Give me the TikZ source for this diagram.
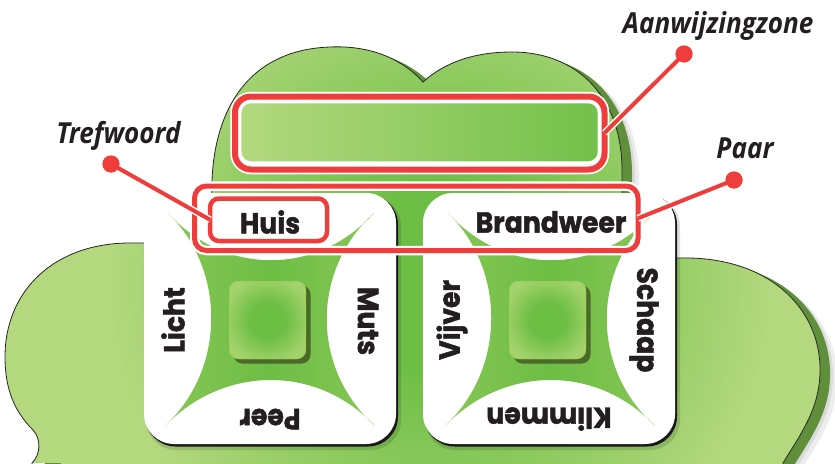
\documentclass[tikz,border=0pt]{standalone}
\usepackage{fontspec}
\newfontfamily\labelfont{Open Sans}[FakeStretch=0.9]
\newfontfamily\tilefont{Poppins}[FakeStretch=0.92, BoldFeatures={FakeBold=1.6}]
\definecolor{gLight}{HTML}{B3D87E}
\definecolor{gDark}{HTML}{6DBE45}
\definecolor{gShadow}{HTML}{5F8F3B}
\definecolor{gStar}{HTML}{86C654}
\definecolor{gSq}{HTML}{A4D36C}
\definecolor{gSqB}{HTML}{9CCF62}
\definecolor{sqShadow}{HTML}{4B6A27}
\definecolor{cRed}{HTML}{EE3D3A}
\definecolor{ink}{HTML}{231F20}
\pgfdeclareradialshading{blobshade}{\pgfpoint{0bp}{0bp}}{color(0bp)=(gDark); color(90bp)=(gDark); color(330bp)=(gLight); color(420bp)=(gLight)}
\pgfdeclareradialshading{squareshade}{\pgfpoint{0bp}{0bp}}{color(0bp)=(gDark); color(18bp)=(gDark); color(44bp)=(gSq); color(60bp)=(gSq)}
\newcommand\blobpath{(212,205) .. controls (208,115) and (245,50) .. (330,47) .. controls (375,45) and (405,62) .. (423,82) .. controls (445,62) and (475,52) .. (512,52) .. controls (580,52) and (622,100) .. (622,170) -- (622,205) -- (660,230) -- (660,258) -- (680,258) .. controls (770,256) and (822,310) .. (820,373) .. controls (819,410) and (800,435) .. (783,463) -- (783,480) -- (30,480) -- (32,463) .. controls (40,455) and (42,440) .. (33,430) .. controls (15,412) and (5,390) .. (5,357) .. controls (5,290) and (55,243) .. (130,243) -- (175,243) -- (175,205) -- cycle}
\newcommand\starpath{(168,213) .. controls (225,276) and (317,276) .. (374,213) .. controls (311,270) and (311,368) .. (374,425) .. controls (317,365) and (225,365) .. (166,425) .. controls (226,368) and (226,270) .. (168,213) -- cycle}
\tikzset{
  tilesoft/.style={fill=black, opacity=.13, rounded corners=30pt},
  tileedge/.style={fill=black!90, rounded corners=30pt},
  tileface/.style={fill=white, rounded corners=30pt},
  starshape/.style={left color=gStar, right color=gStar, middle color=gDark},
  sqshadow/.style={fill=sqShadow, rounded corners=9pt},
  sqborder/.style={draw=gSqB, line width=1pt, rounded corners=9pt},
  tileword/.style={font=\tilefont\bfseries\fontsize{29}{29}\selectfont, text=ink, inner sep=0pt},
  calloutlabel/.style={font=\labelfont\bfseries\itshape\fontsize{29}{29}\selectfont, text=ink, inner sep=0pt},
  redframe/.style={draw=cRed, line width=5pt, preaction={draw=white, line width=9.5pt}, inner sep=0pt, outer sep=0pt},
  panelbox/.style={draw=white, line width=3.5pt, rounded corners=11pt, left color=gLight, right color=gDark!92!gLight, inner sep=0pt},
  reddot/.style={circle, fill=cRed, minimum size=17pt, inner sep=0pt},
  connector/.style={draw=cRed, line width=4pt, preaction={draw=white, line width=7pt}},
}
\newcommand\drawtile[2]{%
  \begin{scope}[shift={(#1,0)}]
    \fill[tilesoft] (146,196) rectangle (401,450);
    \fill[tileedge] (145.5,194.5) rectangle (398,446.5);
    \fill[tileface] (144,193) rectangle (396,444);
  \end{scope}
  \begin{scope}[shift={(#2,0)}]
    \shade[starshape] \starpath;
    \fill[sqshadow] (233.5,285.5) rectangle (310.5,363.5);
    \begin{scope}
      \clip[rounded corners=9pt] (229,281) rectangle (306,359);
      \path (267.5,320) node[inner sep=0pt] {\pgfuseshading{squareshade}};
    \end{scope}
    \draw[sqborder] (229.5,281.5) rectangle (305.5,358.5);
  \end{scope}}
\begin{document}
\begin{tikzpicture}[x=1pt,y=-1pt]
\useasboundingbox (0,0) rectangle (835,463);
% blob with shadows
\fill[black, opacity=.07, shift={(17,9)}] \blobpath;
\fill[black, opacity=.08, shift={(13,6)}] \blobpath;
\fill[gShadow, shift={(10,4)}] \blobpath;
\begin{scope}
  \clip \blobpath;
  \fill[gLight] (0,0) rectangle (835,463);
  \path (440,280) node[inner sep=0pt] {\pgfuseshading{blobshade}};
\end{scope}
\draw[black!85, line width=0.8pt] \blobpath;
% top panel
\node[panelbox, minimum width=359.75pt, minimum height=61.5pt] (panel) at (419.6,132.3) {};
% tiles
\drawtile{0}{0}
\drawtile{279}{280}
% tile words
\node[tileword] (huis) at (270,222) {Huis};
\node[tileword, rotate=90] (licht) at (173,320) {Licht};
\node[tileword, rotate=-90] (muts) at (368,321) {Muts};
\node[tileword, rotate=180] (peer) at (270,419) {Peer};
\node[tileword] (brandweer) at (551,222) {Brandweer};
\node[tileword, rotate=90] (vijver) at (452,320) {Vijver};
\node[tileword, rotate=-90] (schaap) at (644,320) {Schaap};
\node[tileword, rotate=180] (klimmen) at (549,419) {Klimmen};
% red frames
\node[redframe, line width=6pt, rounded corners=16pt, minimum width=369.5pt, minimum height=73pt] (panelframe) at (419.75,133) {};
\node[redframe, rounded corners=12pt, minimum width=443.5pt, minimum height=64.5pt] (pairframe) at (416.25,218.25) {};
\node[redframe, line width=4.5pt, rounded corners=9pt, minimum width=117pt, minimum height=42.5pt] (huisframe) at (268.5,219.75) {};
% callouts
\node[reddot] (dotT) at (111,164) {};
\node[reddot] (dotA) at (684,54) {};
\node[reddot] (dotP) at (734,180) {};
\draw[connector] (dotT.center) -- (huisframe.west);
\draw[connector] (dotA.center) -- (panelframe.east);
\draw[connector] (dotP.center) -- (pairframe.east);
\node[reddot] at (dotT) {};
\node[reddot] at (dotA) {};
\node[reddot] at (dotP) {};
\node[calloutlabel, anchor=base] (lblT) at (118.5,143) {Trefwoord};
\node[calloutlabel, anchor=base] (lblA) at (718,33) {Aanwijzingzone};
\node[calloutlabel, anchor=base] (lblP) at (745,158) {Paar};
\end{tikzpicture}
\end{document}
